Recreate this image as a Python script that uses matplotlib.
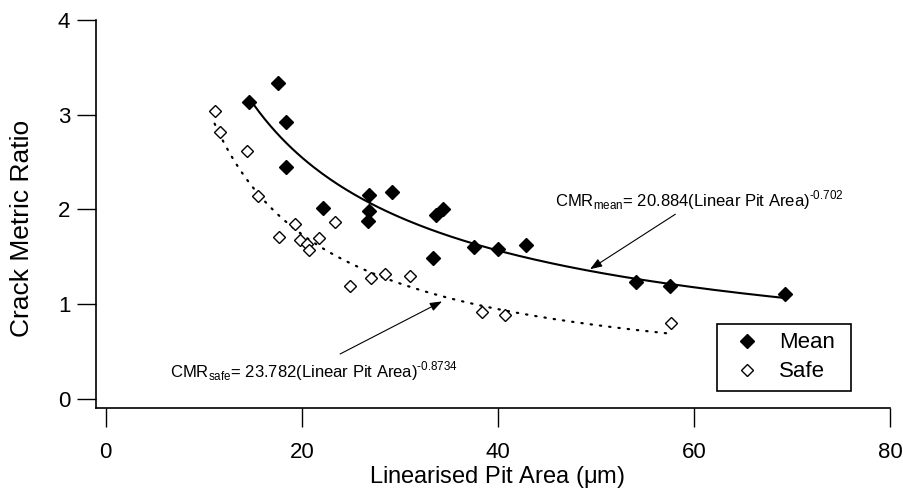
import numpy as np
import matplotlib
matplotlib.use('Agg')
import matplotlib.pyplot as plt

plt.rcParams['font.family'] = ['Liberation Sans', 'DejaVu Sans']
plt.rcParams['mathtext.fontset'] = 'custom'
plt.rcParams['mathtext.rm'] = 'Liberation Sans'

# data
mean_x = [14.6, 17.6, 18.4, 18.4, 22.2, 26.8, 29.2, 26.8, 26.7, 33.7, 34.4, 33.4, 37.6, 40.0, 42.9, 54.1, 57.6, 69.3]
mean_y = [3.13, 3.34, 2.92, 2.45, 2.02, 2.15, 2.18, 1.98, 1.88, 1.94, 2.01, 1.49, 1.60, 1.58, 1.63, 1.23, 1.19, 1.11]

safe_x = [11.1, 11.7, 14.4, 15.5, 17.65, 19.3, 23.4, 21.8, 19.8, 20.5, 20.75, 24.9, 27.1, 28.5, 31.0, 38.4, 40.7, 57.7]
safe_y = [3.04, 2.82, 2.62, 2.14, 1.71, 1.85, 1.87, 1.70, 1.68, 1.64, 1.57, 1.19, 1.28, 1.32, 1.30, 0.92, 0.89, 0.80]

# power law fits printed on the chart
mean_a, mean_b = 20.884, -0.702
safe_a, safe_b = 23.782, -0.8734

x_ticks = [0, 20, 40, 60, 80]
y_ticks = [0, 1, 2, 3, 4]

fig = plt.figure(figsize=(9.04, 4.97), dpi=100)
ax = fig.add_axes([96 / 904, 1 - 408 / 497, 794 / 904, 388 / 497])

xm = np.linspace(min(mean_x), max(mean_x), 200)
ax.plot(xm, mean_a * xm ** mean_b, color='black', lw=1.5, zorder=2)
xs = np.linspace(min(safe_x), max(safe_x), 200)
ax.plot(xs, safe_a * xs ** safe_b, color='black', lw=1.6, dashes=(0.6, 3.6),
        dash_capstyle='round', zorder=2)

ax.plot(mean_x, mean_y, 'D', ms=6.8, color='black', mec='black', label='Mean', zorder=3)
ax.plot(safe_x, safe_y, 'D', ms=6.2, mfc='white', mec='black', mew=1.0, label='Safe', zorder=3)

# annotations (hyphen instead of minus sign, like the original)
arrow = dict(arrowstyle='-|>,head_length=0.6,head_width=0.22', lw=0.8, color='black',
             shrinkA=0, shrinkB=0, mutation_scale=12)
ax.annotate('', xy=(49.4, 1.37), xytext=(58.1, 1.95), arrowprops=arrow)
ax.annotate('', xy=(34.3, 1.03), xytext=(23.9, 0.475), arrowprops=arrow)
ax.text(45.8, 2.03, 'CMR$_{\\mathregular{mean}}$= 20.884(Linear Pit Area)$^{\\mathregular{\u2010 0.702}}$'.replace('\u2010 ', '\u2010'),
        fontsize=12, ha='left', va='baseline')
ax.text(6.5, 0.229, 'CMR$_{\\mathregular{safe}}$= 23.782(Linear Pit Area)$^{\\mathregular{\u20100.8734}}$',
        fontsize=12, ha='left', va='baseline')

ax.set_xlim(-1, 80)
ax.set_ylim(-0.095, 4)
ax.set_xticks(x_ticks)
ax.set_yticks(y_ticks)
ax.spines['top'].set_visible(False)
ax.spines['right'].set_visible(False)
for s in ['left', 'bottom']:
    ax.spines[s].set_linewidth(1.2)
ax.tick_params(axis='both', direction='out', length=13.5, width=1.0, labelsize=16)
ax.tick_params(axis='x', pad=11)
ax.tick_params(axis='y', pad=5)

ax.set_xlabel(r'Linearised Pit Area ($\mathregular{\mu}$m)', fontsize=17)
ax.set_ylabel('Crack Metric Ratio', fontsize=19)
ax.xaxis.set_label_coords(0.505, -0.178)
ax.xaxis.label.set_verticalalignment('center')
ax.yaxis.set_label_coords(-0.093, 0.464)
ax.yaxis.label.set_verticalalignment('center')

leg = ax.legend(loc='upper left', bbox_to_anchor=(0.782, 0.0387, 0.169, 0.178), mode='expand',
                borderaxespad=0, fancybox=False, edgecolor='black', framealpha=1, fontsize=16,
                handlelength=1.95, handletextpad=0.47, borderpad=0.38, labelspacing=0.36)
leg.get_frame().set_linewidth(1.2)

fig.savefig('out.png', dpi=100)
